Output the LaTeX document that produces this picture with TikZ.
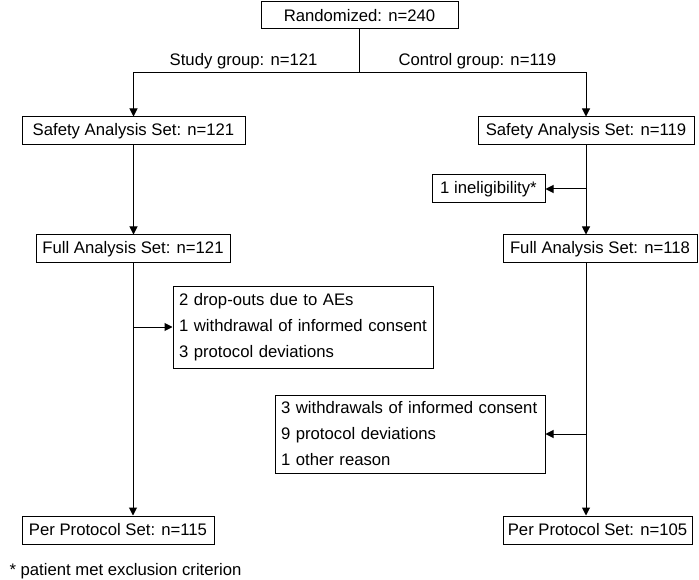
\documentclass[tikz,border=0pt]{standalone}
\usepackage{fontspec}
\setmainfont{Liberation Sans}
\usetikzlibrary{arrows.meta}

\begin{document}
\begin{tikzpicture}[x=1pt,y=-1pt,line width=1pt,
  font=\fontsize{16.7}{26}\selectfont,
  setbox/.style={draw,minimum height=28pt,inner sep=0pt},
  listbox/.style={draw,align=left,inner xsep=6pt,inner ysep=0pt},
  lbl/.style={inner sep=0pt},
  flow/.style={-{Triangle[length=8pt,width=8pt]}}]
\useasboundingbox (0,0) rectangle (699,580);
\node[setbox,minimum width=197pt,minimum height=27pt] (rand) at (359.5,15.5) {Randomized: n=240};
\node[lbl,anchor=east] (study) at (318,61) {Study group: n=121};
\node[lbl,anchor=west] (control) at (398,61) {Control group: n=119};
\node[setbox,minimum width=223pt] (saf1) at (133.5,131) {Safety Analysis Set: n=121};
\node[setbox,minimum width=216pt] (saf2) at (586,131) {Safety Analysis Set: n=119};
\node[setbox,minimum width=113pt] (inel) at (488.5,189) {1 ineligibility*};
\node[setbox,minimum width=194pt] (full1) at (133,249) {Full Analysis Set: n=121};
\node[setbox,minimum width=194pt] (full2) at (600,249) {Full Analysis Set: n=118};
\node[listbox,text width=248pt,minimum height=82pt] (drop) at (303,327) {2 drop-outs due to AEs\\1 withdrawal of informed consent\\3 protocol deviations};
\node[listbox,text width=258pt,minimum height=78pt] (reason) at (410,434) {3 withdrawals of informed consent\\9 protocol deviations\\1 other reason};
\node[setbox,minimum width=192pt] (pp1) at (118,530) {Per Protocol Set: n=115};
\node[setbox,minimum width=189pt] (pp2) at (597.5,530) {Per Protocol Set: n=105};
\node[lbl,anchor=west] (note) at (9,571) {* patient met exclusion criterion};

\coordinate (split) at (359.5,73);
\draw (rand.south) -- (split);
\draw[flow] (split) -| (saf1.north);
\draw[flow] (split) -| (saf2.north);
\draw[flow] (saf1.south) -- (saf1.south |- full1.north);
\draw[flow] (full1.south) -- (full1.south |- pp1.north);
\draw[flow] (full1.south |- drop.west) -- (drop.west);
\draw[flow] (saf2.south) -- (saf2.south |- full2.north);
\draw[flow] (saf2.south |- inel.east) -- (inel.east);
\draw[flow] (full2.south -| saf2.south) -- (saf2.south |- pp2.north);
\draw[flow] (saf2.south |- reason.east) -- (reason.east);
\end{tikzpicture}
\end{document}
